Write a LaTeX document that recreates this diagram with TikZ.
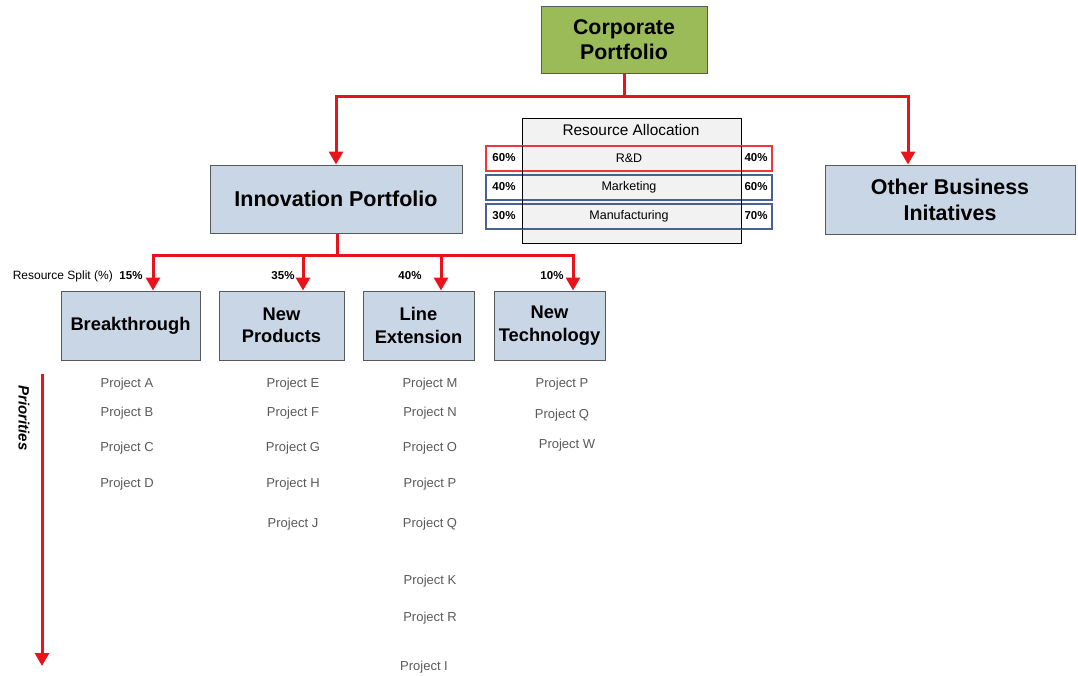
\documentclass[tikz,border=0pt]{standalone}
\usepackage{fontspec}
\setmainfont{Liberation Sans}
\usetikzlibrary{arrows.meta}
\definecolor{olive}{HTML}{9BBB59}
\definecolor{lblue}{HTML}{C9D6E6}
\definecolor{redline}{HTML}{E8141B}
\definecolor{navyb}{HTML}{4A6291}
\definecolor{ptext}{HTML}{595959}
\tikzset{
  box/.style={draw=black!65, line width=1pt, fill=lblue, font=\bfseries, align=center, inner sep=0pt},
  conn/.style={draw=redline, line width=3pt, -{Triangle[length=13pt,width=14pt]}},
  connl/.style={draw=redline, line width=3pt},
  proj/.style={text=ptext, font=\fontsize{13}{15}\selectfont, inner sep=0pt, yshift=-1.5pt},
  pct/.style={font=\bfseries\fontsize{11.5}{13}\selectfont, inner sep=0pt},
  row/.style={line width=1.2pt, inner sep=0pt},
  rowt/.style={font=\fontsize{12.5}{14}\selectfont, inner sep=0pt},
  l3/.style={box, minimum height=69pt, font=\bfseries\fontsize{18.3}{22.5}\selectfont}
}
\begin{document}
\begin{tikzpicture}[x=1pt,y=-1pt]
\useasboundingbox (0,0) rectangle (1078,675);
% Corporate
\node[box, fill=olive, minimum width=166pt, minimum height=67pt, font=\bfseries\fontsize{21.3}{24.5}\selectfont] (corp) at (624,39.5) {Corporate\\Portfolio};
% Resource allocation
\node[draw=black, line width=1pt, fill=black!5, minimum width=219pt, minimum height=125pt, inner sep=0pt] (ra) at (631.5,180.5) {};
\node[font=\fontsize{15.4}{17}\selectfont, inner sep=0pt] (ratitle) at (631,130) {Resource Allocation};
\node[row, draw=redline!85, minimum width=286pt, minimum height=25pt] (rd) at (629,158.5) {};
\node[row, draw=navyb, minimum width=286pt, minimum height=25pt] (mk) at (629,187.5) {};
\node[row, draw=navyb, minimum width=286pt, minimum height=25pt] (mf) at (629,216.5) {};
\draw[black, line width=1pt] (522,146) -- (522,229) (741,146) -- (741,229);
\node[rowt] (rdt) at (rd) {R\&D};
\node[rowt] (mkt) at (mk) {Marketing};
\node[rowt] (mft) at (mf) {Manufacturing};
\node[pct] (rdl) at (504,158) {60\%};
\node[pct] (rdr) at (756,158) {40\%};
\node[pct] (mkl) at (504,187) {40\%};
\node[pct] (mkr) at (756,187) {60\%};
\node[pct] (mfl) at (504,216) {30\%};
\node[pct] (mfr) at (756,216) {70\%};
% Innovation & other
\node[box, minimum width=252pt, minimum height=68pt, font=\bfseries\fontsize{21.5}{25}\selectfont] (inno) at (336,199) {Innovation Portfolio};
\node[box, minimum width=250pt, minimum height=69pt, font=\bfseries\fontsize{21.4}{26}\selectfont] (other) at (950,199.5) {Other Business\\Initatives};
% Level 3 boxes
\node[l3, minimum width=139pt] (bt) at (130.5,325.5) {Breakthrough};
\node[l3, minimum width=125pt] (np) at (281.5,325.5) {New\\Products};
\node[l3, minimum width=111pt] (le) at (418.5,325.5) {Line\\Extension};
\node[l3, minimum width=111pt] (nt) at (549.5,325.5) {New\\Technology};
% connectors top
\coordinate (j1) at (624,96);
\coordinate (oj) at (908,96);
\draw[connl] (corp.south) -- (j1);
\draw[conn] (j1) -| (inno.north);
\draw[conn] (j1) -- (oj) -- (oj |- other.north);
% connectors innovation
\coordinate (j2) at (337,255);
\draw[connl] (inno.south -| j2) -- (j2);
\draw[conn] (j2) -| (153,290.5);
\draw[conn] (j2) -| (303,290.5);
\draw[conn] (j2) -| (441,290.5);
\draw[conn] (j2) -| (573,290.5);
% split labels
\node[font=\fontsize{12}{14}\selectfont, inner sep=0pt, anchor=east] (rs) at (113,276) {Resource Split (\%)};
\node[pct] (p15) at (131,276) {15\%};
\node[pct] (p35) at (283,276) {35\%};
\node[pct] (p40) at (410,276) {40\%};
\node[pct] (p10) at (552,276) {10\%};
% priorities
\coordinate (pa) at (42,374);
\coordinate (pb) at (42,666);
\draw[conn] (pa) -- (pb);
\node[rotate=-90, font=\bfseries\itshape\fontsize{15}{17}\selectfont, inner sep=0pt] (prio) at (24,418) {Priorities};
% projects
\node[proj] (pA) at (127,383) {Project A};
\node[proj] (pB) at (127,412) {Project B};
\node[proj] (pC) at (127,447) {Project C};
\node[proj] (pD) at (127,483) {Project D};
\node[proj] (pE) at (293,383) {Project E};
\node[proj] (pF) at (293,412) {Project F};
\node[proj] (pG) at (293,447) {Project G};
\node[proj] (pH) at (293,483) {Project H};
\node[proj] (pJ) at (293,523) {Project J};
\node[proj] (pM) at (430,383) {Project M};
\node[proj] (pN) at (430,412) {Project N};
\node[proj] (pO) at (430,447) {Project O};
\node[proj] (pP) at (430,483) {Project P};
\node[proj] (pQ) at (430,523) {Project Q};
\node[proj] (pK) at (430,580) {Project K};
\node[proj] (pR) at (430,617) {Project R};
\node[proj] (pI) at (424,666) {Project I};
\node[proj] (pP2) at (562,383) {Project P};
\node[proj] (pQ2) at (562,414) {Project Q};
\node[proj] (pW) at (567,444) {Project W};
\end{tikzpicture}
\end{document}
